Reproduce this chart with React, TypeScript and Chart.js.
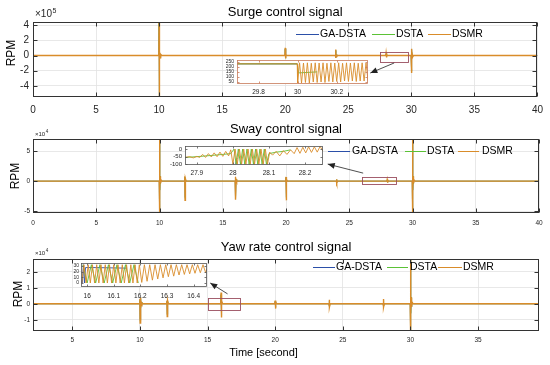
import React, { useEffect, useRef } from "react";
import { Chart, registerables } from "chart.js";

Chart.register(...registerables);

const FONT = '"Liberation Sans", Arial, Helvetica, sans-serif';
const C_GA = "#2B4FA8";
const C_DSTA = "#5BC236";
const C_DSMR = "#D98C2A";
const TXT = "#262626";

// ---------------- main panel data ----------------
const mainXTicks = [0, 5, 10, 15, 20, 25, 30, 35, 40];
const yawXTicks = [5, 10, 15, 20, 25, 30, 35];
const surgeYTicks = [-4, -2, 0, 2, 4];
const swayYTicks = [-5, 0, 5];
const yawYTicks = [-1, 0, 1, 2];

// Surge (x10^5 RPM)
const surgeTime = [0, 9.98, 10.0, 10.01, 10.02, 10.03, 10.05, 10.08, 10.12, 10.2,
  19.98, 20.0, 20.02, 20.05, 20.1, 23.98, 24.0, 24.02, 24.05, 24.1,
  27.98, 28.0, 28.02, 28.06, 29.98, 30.0, 30.02, 30.05, 30.1, 30.15, 40];
const surgeDSMR = [0, 0, 5, -6, 1.2, -0.8, 0.5, -0.3, 0.15, 0,
  0, 1.0, -0.4, 0.15, 0, 0, 0.8, -0.3, 0.1, 0,
  0, 0.3, -0.25, 0, 0, 0.9, -2.3, 0.6, -0.2, 0, 0];
const surgeDSTA = [0, 0, 5, -6, 1.2, -0.8, 0.5, -0.3, 0.15, 0,
  0, 0.9, -0.35, 0.15, 0, 0, 0.7, -0.25, 0.1, 0,
  0, 0.25, -0.2, 0, 0, 0.8, -2.1, 0.5, -0.2, 0, 0];
const surgeGADSTA = [0, 0, 5, -6, 1.2, -0.8, 0.5, -0.3, 0.15, 0,
  0, 0.85, -0.3, 0.1, 0, 0, 0.65, -0.25, 0.1, 0,
  0, 0.2, -0.2, 0, 0, 0.75, -2.0, 0.5, -0.2, 0, 0];

// Sway (x10^4 RPM)
const swayTime = [0, 9.98, 10.0, 10.01, 10.02, 10.03, 10.05, 10.08, 10.12, 10.2,
  11.98, 12.0, 12.02, 12.05, 12.1, 15.98, 16.0, 16.02, 16.05, 16.1,
  19.98, 20.0, 20.02, 20.05, 20.1, 23.98, 24.0, 24.02, 24.06,
  27.98, 28.0, 28.02, 28.06, 29.98, 30.0, 30.01, 30.02, 30.03, 30.05, 30.08, 30.12, 30.2, 40];
const swayDSMR = [0, 0, 8, -6, 2, -1.5, 0.8, -0.4, 0.2, 0,
  0, 0.8, -3.2, 0.4, 0, 0, 0.7, -3.1, 0.3, 0,
  0, 0.7, -3.2, 0.3, 0, 0, 0.3, -0.3, 0,
  0, 0.25, -0.25, 0, 0, 8, -6, 2, -1.5, 0.8, -0.4, 0.2, 0, 0];
const swayDSTA = [0, 0, 8, -6, 2, -1.5, 0.8, -0.4, 0.2, 0,
  0, 0.7, -2.9, 0.3, 0, 0, 0.6, -2.8, 0.3, 0,
  0, 0.6, -2.9, 0.3, 0, 0, 0.25, -0.25, 0,
  0, 0.2, -0.2, 0, 0, 8, -6, 2, -1.5, 0.8, -0.4, 0.2, 0, 0];
const swayGADSTA = [0, 0, 8, -6, 2, -1.5, 0.8, -0.4, 0.2, 0,
  0, 0.6, -2.7, 0.3, 0, 0, 0.6, -2.6, 0.2, 0,
  0, 0.6, -2.7, 0.2, 0, 0, 0.2, -0.2, 0,
  0, 0.2, -0.2, 0, 0, 8, -6, 2, -1.5, 0.8, -0.4, 0.2, 0, 0];

// Yaw rate (x10^4 RPM)
const yawTime = [2.1, 9.98, 10.0, 10.02, 10.04, 10.07, 10.1, 10.15,
  11.98, 12.0, 12.02, 12.05, 12.1, 15.98, 16.0, 16.02, 16.05, 16.1,
  19.98, 20.0, 20.02, 20.05, 20.1, 23.98, 24.0, 24.02, 24.06,
  27.98, 28.0, 28.02, 28.06, 29.98, 30.0, 30.01, 30.02, 30.03, 30.05, 30.08, 30.12, 30.2, 39.5];
const yawDSMR = [0, 0, 0.3, -1.2, 0.4, -0.3, 0.1, 0,
  0, 0.2, -0.8, 0.2, 0, 0, 0.7, -0.85, 0.2, 0,
  0, 0.2, -0.3, 0.1, 0, 0, 0.25, -0.2, 0,
  0, 0.3, -0.2, 0, 0, 3.2, -2.2, 1.0, -0.6, 0.4, -0.2, 0.1, 0, 0];
const yawDSTA = [0, 0, 0.25, -1.1, 0.35, -0.25, 0.1, 0,
  0, 0.15, -0.7, 0.15, 0, 0, 0.6, -0.75, 0.15, 0,
  0, 0.15, -0.25, 0.1, 0, 0, 0.2, -0.15, 0,
  0, 0.25, -0.15, 0, 0, 3.2, -2.2, 1.0, -0.6, 0.4, -0.2, 0.1, 0, 0];
const yawGADSTA = [0, 0, 0.2, -1.0, 0.3, -0.2, 0.1, 0,
  0, 0.15, -0.65, 0.15, 0, 0, 0.55, -0.7, 0.15, 0,
  0, 0.15, -0.2, 0.1, 0, 0, 0.2, -0.15, 0,
  0, 0.2, -0.15, 0, 0, 3.2, -2.2, 1.0, -0.6, 0.4, -0.2, 0.1, 0, 0];

// ---------------- inset data ----------------
const inset1XTicks = [29.8, 30, 30.2];
const inset1XLabels = ["29.8", "30", "30.2"];
const inset1YTicks = [50, 100, 150, 200, 250];
const inset1Time = [29.69, 29.998, 30.0, 30.01, 30.02, 30.03, 30.04, 30.05, 30.06, 30.07,
  30.08, 30.09, 30.1, 30.11, 30.12, 30.13, 30.14, 30.15, 30.16, 30.17,
  30.18, 30.19, 30.2, 30.21, 30.22, 30.23, 30.24, 30.25, 30.26, 30.27,
  30.28, 30.29, 30.3, 30.31, 30.32, 30.33, 30.34, 30.35, 30.36];
const inset1DSMR = [230, 230, 40, 240, 40, 238, 45, 240, 40, 236,
  50, 240, 45, 238, 50, 240, 45, 236, 55, 240,
  50, 238, 55, 240, 50, 236, 60, 240, 55, 238,
  60, 240, 55, 236, 60, 240, 60, 238, 65];
const inset1DSTATime = [29.69, 29.998, 30.005, 30.1];
const inset1DSTA = [230, 230, 140, 150];
const inset1GATime = [29.69, 29.998];
const inset1GA = [230, 230];

const inset2XTicks = [27.9, 28, 28.1, 28.2];
const inset2XLabels = ["27.9", "28", "28.1", "28.2"];
const inset2YTicks = [-100, -50, 0];
const inset2Time = [27.867, 27.88, 27.89, 27.9, 27.908, 27.916, 27.924, 27.932, 27.94, 27.948,
  27.956, 27.964, 27.972, 27.98, 27.988, 27.994, 28.0, 28.006, 28.012, 28.018,
  28.024, 28.03, 28.036, 28.042, 28.048, 28.054, 28.06, 28.066, 28.072, 28.078,
  28.084, 28.09, 28.096, 28.102, 28.11, 28.12, 28.13, 28.14, 28.15, 28.16,
  28.17, 28.178, 28.186, 28.194, 28.202, 28.21, 28.218, 28.226, 28.234, 28.242,
  28.25];
const inset2DSMR = [-55, -50, -58, -48, -55, -35, -55, -30, -52, -25,
  -50, -20, -48, -15, -45, -5, -100, 0, -100, 0,
  -100, 0, -100, 0, -100, 0, -100, 0, -100, 0,
  -100, 0, -100, -20, -40, -15, -45, -10, -35, -5,
  -30, 10, -28, 12, -25, 15, -22, 15, -20, 18,
  -15];
const inset2DSTATime = [27.867, 27.9, 27.95, 27.994, 28.003, 28.009, 28.015, 28.021, 28.027, 28.033,
  28.039, 28.045, 28.051, 28.057, 28.063, 28.069, 28.075, 28.081, 28.087, 28.093,
  28.1, 28.12, 28.14, 28.16];
const inset2DSTA = [-55, -50, -40, -30, 0, -100, 0, -100, 0, -100,
  0, -100, 0, -100, 0, -100, 0, -100, 0, -100,
  -30, -20, -15, -5];
const inset2GATime = [28.008, 28.01, 28.012];
const inset2GA = [-100, -65, -60];

const inset3XTicks = [16, 16.1, 16.2, 16.3, 16.4];
const inset3XLabels = ["16", "16.1", "16.2", "16.3", "16.4"];
const inset3YTicks = [0, 10, 20, 30];
const inset3Time = [15.98, 15.988, 15.996, 16.004, 16.012, 16.02, 16.028, 16.036, 16.044, 16.052,
  16.06, 16.068, 16.076, 16.084, 16.092, 16.1, 16.108, 16.116, 16.124, 16.132,
  16.14, 16.148, 16.156, 16.164, 16.172, 16.18, 16.188, 16.196, 16.205, 16.215,
  16.225, 16.235, 16.245, 16.255, 16.265, 16.275, 16.285, 16.295, 16.305, 16.315,
  16.325, 16.335, 16.345, 16.355, 16.365, 16.375, 16.385, 16.395, 16.405, 16.415,
  16.425, 16.435, 16.445, 16.45];
const inset3DSMR = [0, 32, 0, 32, 0, 32, 0, 32, 0, 32,
  0, 32, 0, 32, 0, 32, 0, 32, 0, 32,
  0, 32, 0, 32, 0, 32, 0, 32, 1, 32,
  3, 32, 5, 32, 7, 32, 9, 32, 11, 32,
  12, 32, 14, 32, 15, 32, 16, 32, 17, 32,
  18, 32, 18, 25];
const inset3DSTATime = [15.984, 16.0, 16.016, 16.032, 16.048, 16.064, 16.08, 16.096, 16.112, 16.128,
  16.144, 16.16, 16.176, 16.192];
const inset3DSTA = [32, 0, 32, 0, 32, 0, 32, 0, 32, 0, 32, 0, 32, 0];
const inset3GATime = [15.982, 15.986, 15.99, 15.994, 16.03, 16.15];
const inset3GA = [0, 32, 0, 27, 27, 26];

// ---------------- helpers ----------------
const pts = (t: number[], v: number[]) => t.map((x, i) => ({ x, y: v[i] }));

function ds(t: number[], v: number[], color: string, order: number, width = 1) {
  return {
    data: pts(t, v),
    borderColor: color,
    backgroundColor: color,
    borderWidth: width,
    pointRadius: 0,
    tension: 0,
    fill: false,
    order,
  };
}

function drawArrow(ctx: CanvasRenderingContext2D, x1: number, y1: number, x2: number, y2: number) {
  ctx.beginPath();
  ctx.moveTo(x1, y1);
  ctx.lineTo(x2, y2);
  ctx.stroke();
  const a = Math.atan2(y2 - y1, x2 - x1);
  const L = 7, W = 3;
  ctx.beginPath();
  ctx.moveTo(x2, y2);
  ctx.lineTo(x2 - L * Math.cos(a) + W * Math.sin(a), y2 - L * Math.sin(a) - W * Math.cos(a));
  ctx.lineTo(x2 - L * Math.cos(a) - W * Math.sin(a), y2 - L * Math.sin(a) + W * Math.cos(a));
  ctx.closePath();
  ctx.fill();
}

function frameAndTicks(chart: any, color: string, tickLen: number, lw: number) {
  const { ctx, chartArea: a, scales } = chart;
  ctx.save();
  ctx.strokeStyle = color;
  ctx.lineWidth = lw;
  const L = Math.round(a.left) + 0.5, R = Math.round(a.right) - 0.5;
  const T = Math.round(a.top) + 0.5, B = Math.round(a.bottom) - 0.5;
  ctx.strokeRect(L, T, R - L, B - T);
  ctx.beginPath();
  scales.x.ticks.forEach((tk: any) => {
    const px = Math.round(scales.x.getPixelForValue(tk.value)) + 0.5;
    ctx.moveTo(px, B); ctx.lineTo(px, B - tickLen);
    ctx.moveTo(px, T); ctx.lineTo(px, T + tickLen);
  });
  scales.y.ticks.forEach((tk: any) => {
    const py = Math.round(scales.y.getPixelForValue(tk.value)) + 0.5;
    ctx.moveTo(L, py); ctx.lineTo(L + tickLen, py);
    ctx.moveTo(R, py); ctx.lineTo(R - tickLen, py);
  });
  ctx.stroke();
  ctx.restore();
}

// ---------------- panel configs ----------------
const PANELS: any[] = [
  {
    top: 0, height: 118,
    area: { left: 33, right: 540, top: 22, bottom: 97 },
    x: { min: 0, max: 40, ticks: mainXTicks, font: 10, pad: 7 },
    y: { min: -5.45, max: 4.4, ticks: surgeYTicks, font: 10, pad: 4 },
    series: [[surgeTime, surgeGADSTA, C_GA, 2], [surgeTime, surgeDSTA, C_DSTA, 1], [surgeTime, surgeDSMR, C_DSMR, 0]],
    title: { text: "Surge control signal", y: 12, size: 13 },
    exp: { base: "×10", sup: "5", x: 35, y: 17, size: 10, supSize: 7 },
    ylabel: { x: 11.5, y: 53, size: 12 },
    legend: { y: 34, size: 10.5, items: [[296, 319, 320, "GA-DSTA", C_GA], [372, 395, 396, "DSTA", C_DSTA], [428, 451, 452, "DSMR", C_DSMR]] },
    rect: [27.5, 29.7, -0.85, 0.45],
    arrow: [28.64, -0.98, 26.75, -2.3],
  },
  {
    top: 118, height: 117,
    area: { left: 33, right: 539, top: 139, bottom: 213 },
    x: { min: 0, max: 40, ticks: mainXTicks, font: 6.5, pad: 6 },
    y: { min: -5.3, max: 7, ticks: swayYTicks, font: 6.5, pad: 3 },
    series: [[swayTime, swayGADSTA, C_GA, 2], [swayTime, swayDSTA, C_DSTA, 1], [swayTime, swayDSMR, C_DSMR, 0]],
    title: { text: "Sway control signal", y: 129, size: 13 },
    exp: { base: "×10", sup: "4", x: 35, y: 136, size: 6, supSize: 4.5 },
    ylabel: { x: 16, y: 176, size: 12 },
    legend: { y: 151, size: 10.5, items: [[328, 350, 352, "GA-DSTA", C_GA], [405, 426, 427, "DSTA", C_DSTA], [458, 479, 482, "DSMR", C_DSMR]] },
    rect: [26, 28.7, -0.5, 0.7],
    arrow: [26.1, 1.33, 23.3, 2.83],
  },
  {
    top: 235, height: 130,
    area: { left: 33, right: 539, top: 259, bottom: 331 },
    x: { min: 2.1, max: 39.5, ticks: yawXTicks, font: 6.5, pad: 5 },
    y: { min: -1.7, max: 2.8, ticks: yawYTicks, font: 6.5, pad: 3 },
    series: [[yawTime, yawGADSTA, C_GA, 2], [yawTime, yawDSTA, C_DSTA, 1], [yawTime, yawDSMR, C_DSMR, 0]],
    title: { text: "Yaw rate control signal", y: 247, size: 13 },
    exp: { base: "×10", sup: "4", x: 35, y: 255, size: 6, supSize: 4.5 },
    ylabel: { x: 19, y: 294, size: 12 },
    legend: { y: 267, size: 10.5, items: [[313, 335, 336, "GA-DSTA", C_GA], [387, 408, 410, "DSTA", C_DSTA], [438, 462, 463, "DSMR", C_DSMR]] },
    rect: [15.05, 17.4, -0.37, 0.37],
    arrow: [16.48, 0.62, 15.2, 1.3],
    xlabel: { text: "Time [second]", x: 263.5, y: 353, size: 11 },
  },
];

const INSETS: any[] = [
  {
    left: 212, top: 54, width: 162, height: 46,
    area: { left: 237, right: 368, top: 58, bottom: 84 },
    x: { min: 29.69, max: 30.36, ticks: inset1XTicks, labels: inset1XLabels, font: 6.5, pad: 4 },
    y: { min: 30, max: 268, ticks: inset1YTicks, font: 5, pad: 3 },
    series: [[inset1GATime, inset1GA, C_GA, 2], [inset1DSTATime, inset1DSTA, C_DSTA, 1], [inset1Time, inset1DSMR, C_DSMR, 0]],
    frame: "#C87A5A",
  },
  {
    left: 160, top: 139, width: 170, height: 42,
    area: { left: 185, right: 323, top: 143, bottom: 165 },
    x: { min: 27.867, max: 28.25, ticks: inset2XTicks, labels: inset2XLabels, font: 6.5, pad: 4 },
    y: { min: -105, max: 23, ticks: inset2YTicks, font: 6, pad: 3 },
    series: [[inset2GATime, inset2GA, C_GA, 2], [inset2DSTATime, inset2DSTA, C_DSTA, 1], [inset2Time, inset2DSMR, C_DSMR, 0]],
    frame: "#555555",
  },
  {
    left: 60, top: 258, width: 152, height: 46,
    area: { left: 81, right: 207, top: 262, bottom: 287 },
    x: { min: 15.977, max: 16.45, ticks: inset3XTicks, labels: inset3XLabels, font: 6.5, pad: 5 },
    y: { min: -7, max: 35, ticks: inset3YTicks, font: 5, pad: 2 },
    series: [[inset3GATime, inset3GA, C_GA, 2], [inset3DSTATime, inset3DSTA, C_DSTA, 1], [inset3Time, inset3DSMR, C_DSMR, 0]],
    frame: "#555555",
  },
];

function scaleOpts(ax: any, isX: boolean, size: number, grid: boolean) {
  return {
    type: "linear",
    min: ax.min,
    max: ax.max,
    afterBuildTicks: (s: any) => { s.ticks = ax.ticks.map((v: number) => ({ value: v })); },
    afterFit: (s: any) => { if (isX) s.height = size; else s.width = size; },
    grid: { display: grid, color: "#e2e2e2", lineWidth: 0.8, drawTicks: false },
    border: { display: false },
    ticks: {
      autoSkip: false,
      maxRotation: 0,
      padding: ax.pad,
      color: TXT,
      font: { family: FONT, size: ax.font },
      callback: (v: number, i: number) => (ax.labels ? ax.labels[i] : String(v)),
    },
  };
}

function buildMain(canvas: HTMLCanvasElement, cfg: any) {
  const a = cfg.area;
  const decor = {
    id: "decor",
    afterDraw(chart: any) {
      frameAndTicks(chart, "#333333", 4, 1);
      const { ctx, scales } = chart;
      const off = cfg.top;
      const ca = chart.chartArea;
      ctx.save();
      ctx.fillStyle = "#000";
      ctx.textBaseline = "middle";
      ctx.font = `${cfg.title.size}px ${FONT}`;
      ctx.textAlign = "center";
      ctx.fillText(cfg.title.text, (ca.left + ca.right) / 2, cfg.title.y - off);
      ctx.fillStyle = TXT;
      ctx.textAlign = "left";
      ctx.textBaseline = "alphabetic";
      ctx.font = `${cfg.exp.size}px ${FONT}`;
      ctx.fillText(cfg.exp.base, cfg.exp.x, cfg.exp.y - off);
      const w = ctx.measureText(cfg.exp.base).width;
      ctx.font = `${cfg.exp.supSize}px ${FONT}`;
      ctx.fillText(cfg.exp.sup, cfg.exp.x + w + 0.5, cfg.exp.y - off - cfg.exp.size * 0.45);
      ctx.save();
      ctx.translate(cfg.ylabel.x, cfg.ylabel.y - off);
      ctx.rotate(-Math.PI / 2);
      ctx.font = `${cfg.ylabel.size}px ${FONT}`;
      ctx.textAlign = "center";
      ctx.textBaseline = "middle";
      ctx.fillStyle = "#000";
      ctx.fillText("RPM", 0, 0);
      ctx.restore();
      if (cfg.xlabel) {
        ctx.font = `${cfg.xlabel.size}px ${FONT}`;
        ctx.textAlign = "center";
        ctx.textBaseline = "middle";
        ctx.fillStyle = "#000";
        ctx.fillText(cfg.xlabel.text, cfg.xlabel.x, cfg.xlabel.y - off);
      }
      ctx.font = `${cfg.legend.size}px ${FONT}`;
      ctx.textAlign = "left";
      ctx.textBaseline = "middle";
      cfg.legend.items.forEach((it: any) => {
        ctx.strokeStyle = it[4];
        ctx.lineWidth = 1;
        ctx.beginPath();
        ctx.moveTo(it[0], cfg.legend.y - off + 0.5);
        ctx.lineTo(it[1], cfg.legend.y - off + 0.5);
        ctx.stroke();
        ctx.fillStyle = "#000";
        ctx.fillText(it[3], it[2], cfg.legend.y - off);
      });
      const r = cfg.rect;
      const x0 = scales.x.getPixelForValue(r[0]), x1 = scales.x.getPixelForValue(r[1]);
      const y0 = scales.y.getPixelForValue(r[2]), y1 = scales.y.getPixelForValue(r[3]);
      ctx.strokeStyle = "#9B5060";
      ctx.lineWidth = 0.9;
      ctx.strokeRect(Math.round(x0) + 0.5, Math.round(y1) + 0.5, Math.round(x1 - x0), Math.round(y0 - y1));
      const ar = cfg.arrow;
      ctx.strokeStyle = "#222";
      ctx.fillStyle = "#222";
      ctx.lineWidth = 0.8;
      drawArrow(ctx, scales.x.getPixelForValue(ar[0]), scales.y.getPixelForValue(ar[1]),
        scales.x.getPixelForValue(ar[2]), scales.y.getPixelForValue(ar[3]));
      ctx.restore();
    },
  };
  return new Chart(canvas, {
    type: "line",
    data: {
      datasets: cfg.series.map((s: any) => ds(s[0], s[1], s[2], s[3], s[3] === 0 ? 1.4 : 0.6)),
    },
    options: {
      responsive: false,
      maintainAspectRatio: false,
      animation: false,
      devicePixelRatio: 1,
      events: [],
      layout: { padding: { top: a.top - cfg.top, left: 0, right: 550 - a.right, bottom: 0 } },
      plugins: { legend: { display: false }, tooltip: { enabled: false }, title: { display: false } },
      scales: {
        x: scaleOpts(cfg.x, true, cfg.top + cfg.height - a.bottom, true),
        y: scaleOpts(cfg.y, false, a.left, true),
      },
    } as any,
    plugins: [decor],
  } as any);
}

function buildInset(canvas: HTMLCanvasElement, cfg: any) {
  const a = cfg.area;
  const bg = {
    id: "insetbg",
    beforeDraw(chart: any) {
      const ca = chart.chartArea;
      const ctx = chart.ctx;
      ctx.save();
      ctx.fillStyle = "#ffffff";
      ctx.fillRect(ca.left, ca.top, ca.right - ca.left, ca.bottom - ca.top);
      ctx.restore();
    },
    afterDraw(chart: any) {
      frameAndTicks(chart, cfg.frame, 2, 0.8);
    },
  };
  return new Chart(canvas, {
    type: "line",
    data: { datasets: cfg.series.map((s: any) => ds(s[0], s[1], s[2], s[3], 0.9)) },
    options: {
      responsive: false,
      maintainAspectRatio: false,
      animation: false,
      devicePixelRatio: 1,
      events: [],
      layout: {
        padding: {
          top: a.top - cfg.top,
          left: 0,
          right: cfg.left + cfg.width - a.right,
          bottom: 0,
        },
      },
      plugins: { legend: { display: false }, tooltip: { enabled: false }, title: { display: false } },
      scales: {
        x: scaleOpts(cfg.x, true, cfg.top + cfg.height - a.bottom, false),
        y: scaleOpts(cfg.y, false, a.left - cfg.left, false),
      },
    } as any,
    plugins: [bg],
  } as any);
}

export default function App() {
  const m0 = useRef<HTMLCanvasElement>(null);
  const m1 = useRef<HTMLCanvasElement>(null);
  const m2 = useRef<HTMLCanvasElement>(null);
  const i0 = useRef<HTMLCanvasElement>(null);
  const i1 = useRef<HTMLCanvasElement>(null);
  const i2 = useRef<HTMLCanvasElement>(null);

  useEffect(() => {
    const charts: Chart[] = [];
    const mains = [m0, m1, m2];
    const insets = [i0, i1, i2];
    PANELS.forEach((cfg, i) => { if (mains[i].current) charts.push(buildMain(mains[i].current!, cfg)); });
    INSETS.forEach((cfg, i) => { if (insets[i].current) charts.push(buildInset(insets[i].current!, cfg)); });
    return () => charts.forEach((c) => c.destroy());
  }, []);

  const mainRefs = [m0, m1, m2];
  const insetRefs = [i0, i1, i2];
  return (
    <div style={{ position: "fixed", left: 0, top: 0, width: 550, height: 365, background: "#fff", overflow: "hidden" }}>
      {PANELS.map((p, i) => (
        <canvas key={"m" + i} ref={mainRefs[i]} width={550} height={p.height}
          style={{ position: "absolute", left: 0, top: p.top, width: 550, height: p.height }} />
      ))}
      {INSETS.map((p, i) => (
        <canvas key={"i" + i} ref={insetRefs[i]} width={p.width} height={p.height}
          style={{ position: "absolute", left: p.left, top: p.top, width: p.width, height: p.height }} />
      ))}
    </div>
  );
}
